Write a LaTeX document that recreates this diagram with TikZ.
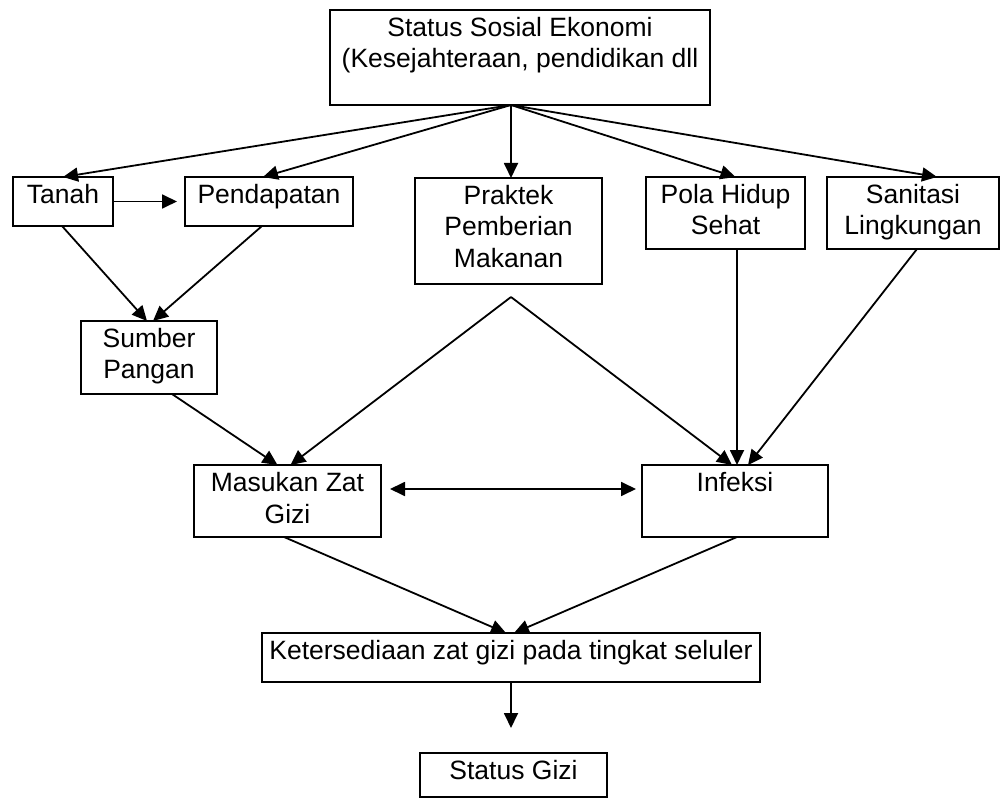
\documentclass[tikz,border=0pt]{standalone}
\usepackage{fontspec}
\setmainfont{Liberation Sans}
\usetikzlibrary{arrows.meta}
\newcommand{\bt}[3]{\parbox[t][#2pt][t]{#1pt}{\centering\rule{0pt}{26.5pt}#3}}
\begin{document}
\begin{tikzpicture}[x=1pt,y=-1pt, line width=1.8pt,
  bx/.style={draw, inner sep=0pt, outer sep=0pt, anchor=north west,
    font=\fontsize{26.5}{31.5}\selectfont},
  arr/.style={-{Triangle[length=15pt,width=14pt]}},
  darr/.style={{Triangle[length=15pt,width=14pt]}-{Triangle[length=15pt,width=14pt]}}]
\useasboundingbox (0,0) rectangle (1001,799);

\node[bx] (top) at (330,10) {\bt{380}{95}{Status Sosial Ekonomi\\(Kesejahteraan, pendidikan dll}};
\node[bx] (tanah) at (13,177) {\bt{100}{49}{Tanah}};
\node[bx] (pend) at (185,177) {\bt{168}{49}{Pendapatan}};
\node[bx] (prak) at (415,178) {\bt{187}{106}{Praktek\\Pemberian\\Makanan}};
\node[bx] (pola) at (646,177) {\bt{159}{72}{Pola Hidup\\Sehat}};
\node[bx] (sani) at (827,177) {\bt{172}{72}{Sanitasi\\Lingkungan}};
\node[bx] (sumber) at (81,321) {\bt{136}{73}{Sumber\\Pangan}};
\node[bx] (masuk) at (194,465) {\bt{187}{72}{Masukan Zat\\Gizi}};
\node[bx] (infeksi) at (642,465) {\bt{186}{72}{Infeksi}};
\node[bx] (keter) at (262,633) {\bt{498}{49}{Ketersediaan zat gizi pada tingkat seluler}};
\node[bx] (status) at (420,753) {\bt{187}{44}{Status Gizi}};

\coordinate (o) at (511,105);
\coordinate (v) at (511,297);
\coordinate (sg) at ([yshift=25pt]status.north);

\draw[arr] (o) -- (tanah.north);
\draw[arr] (o) -- ([xshift=-6pt]pend.north);
\draw[arr] (o) -- (o |- prak.north);
\draw[arr] (o) -- ([xshift=10pt]pola.north);
\draw[arr] (o) -- ([xshift=24pt]sani.north);

\draw[arr] (tanah.east) -- ([xshift=-8pt]pend.west);
\draw[arr] ([xshift=-1pt]tanah.south) -- ([xshift=-2pt]sumber.north);
\draw[arr] ([xshift=-7pt]pend.south) -- ([xshift=4pt]sumber.north);

\draw[arr] ([xshift=23pt]sumber.south) -- ([xshift=-10pt]masuk.north);
\draw[arr] (v) -- ([xshift=3pt]masuk.north);
\draw[arr] (v) -- ([xshift=-3pt]infeksi.north);
\draw[arr] ([xshift=11.5pt]pola.south) -- ([xshift=2pt]infeksi.north);
\draw[arr] ([xshift=4pt]sani.south) -- ([xshift=13pt]infeksi.north);

\draw[darr] ([xshift=9pt,yshift=12pt]masuk.east) -- ([xshift=-6pt,yshift=12pt]infeksi.west);

\draw[arr] ([xshift=-3.5pt]masuk.south) -- ([xshift=-5pt]keter.north);
\draw[arr] ([xshift=2pt]infeksi.south) -- ([xshift=3pt]keter.north);
\draw[arr] (keter.south) -- (keter.south |- sg);
\end{tikzpicture}
\end{document}
